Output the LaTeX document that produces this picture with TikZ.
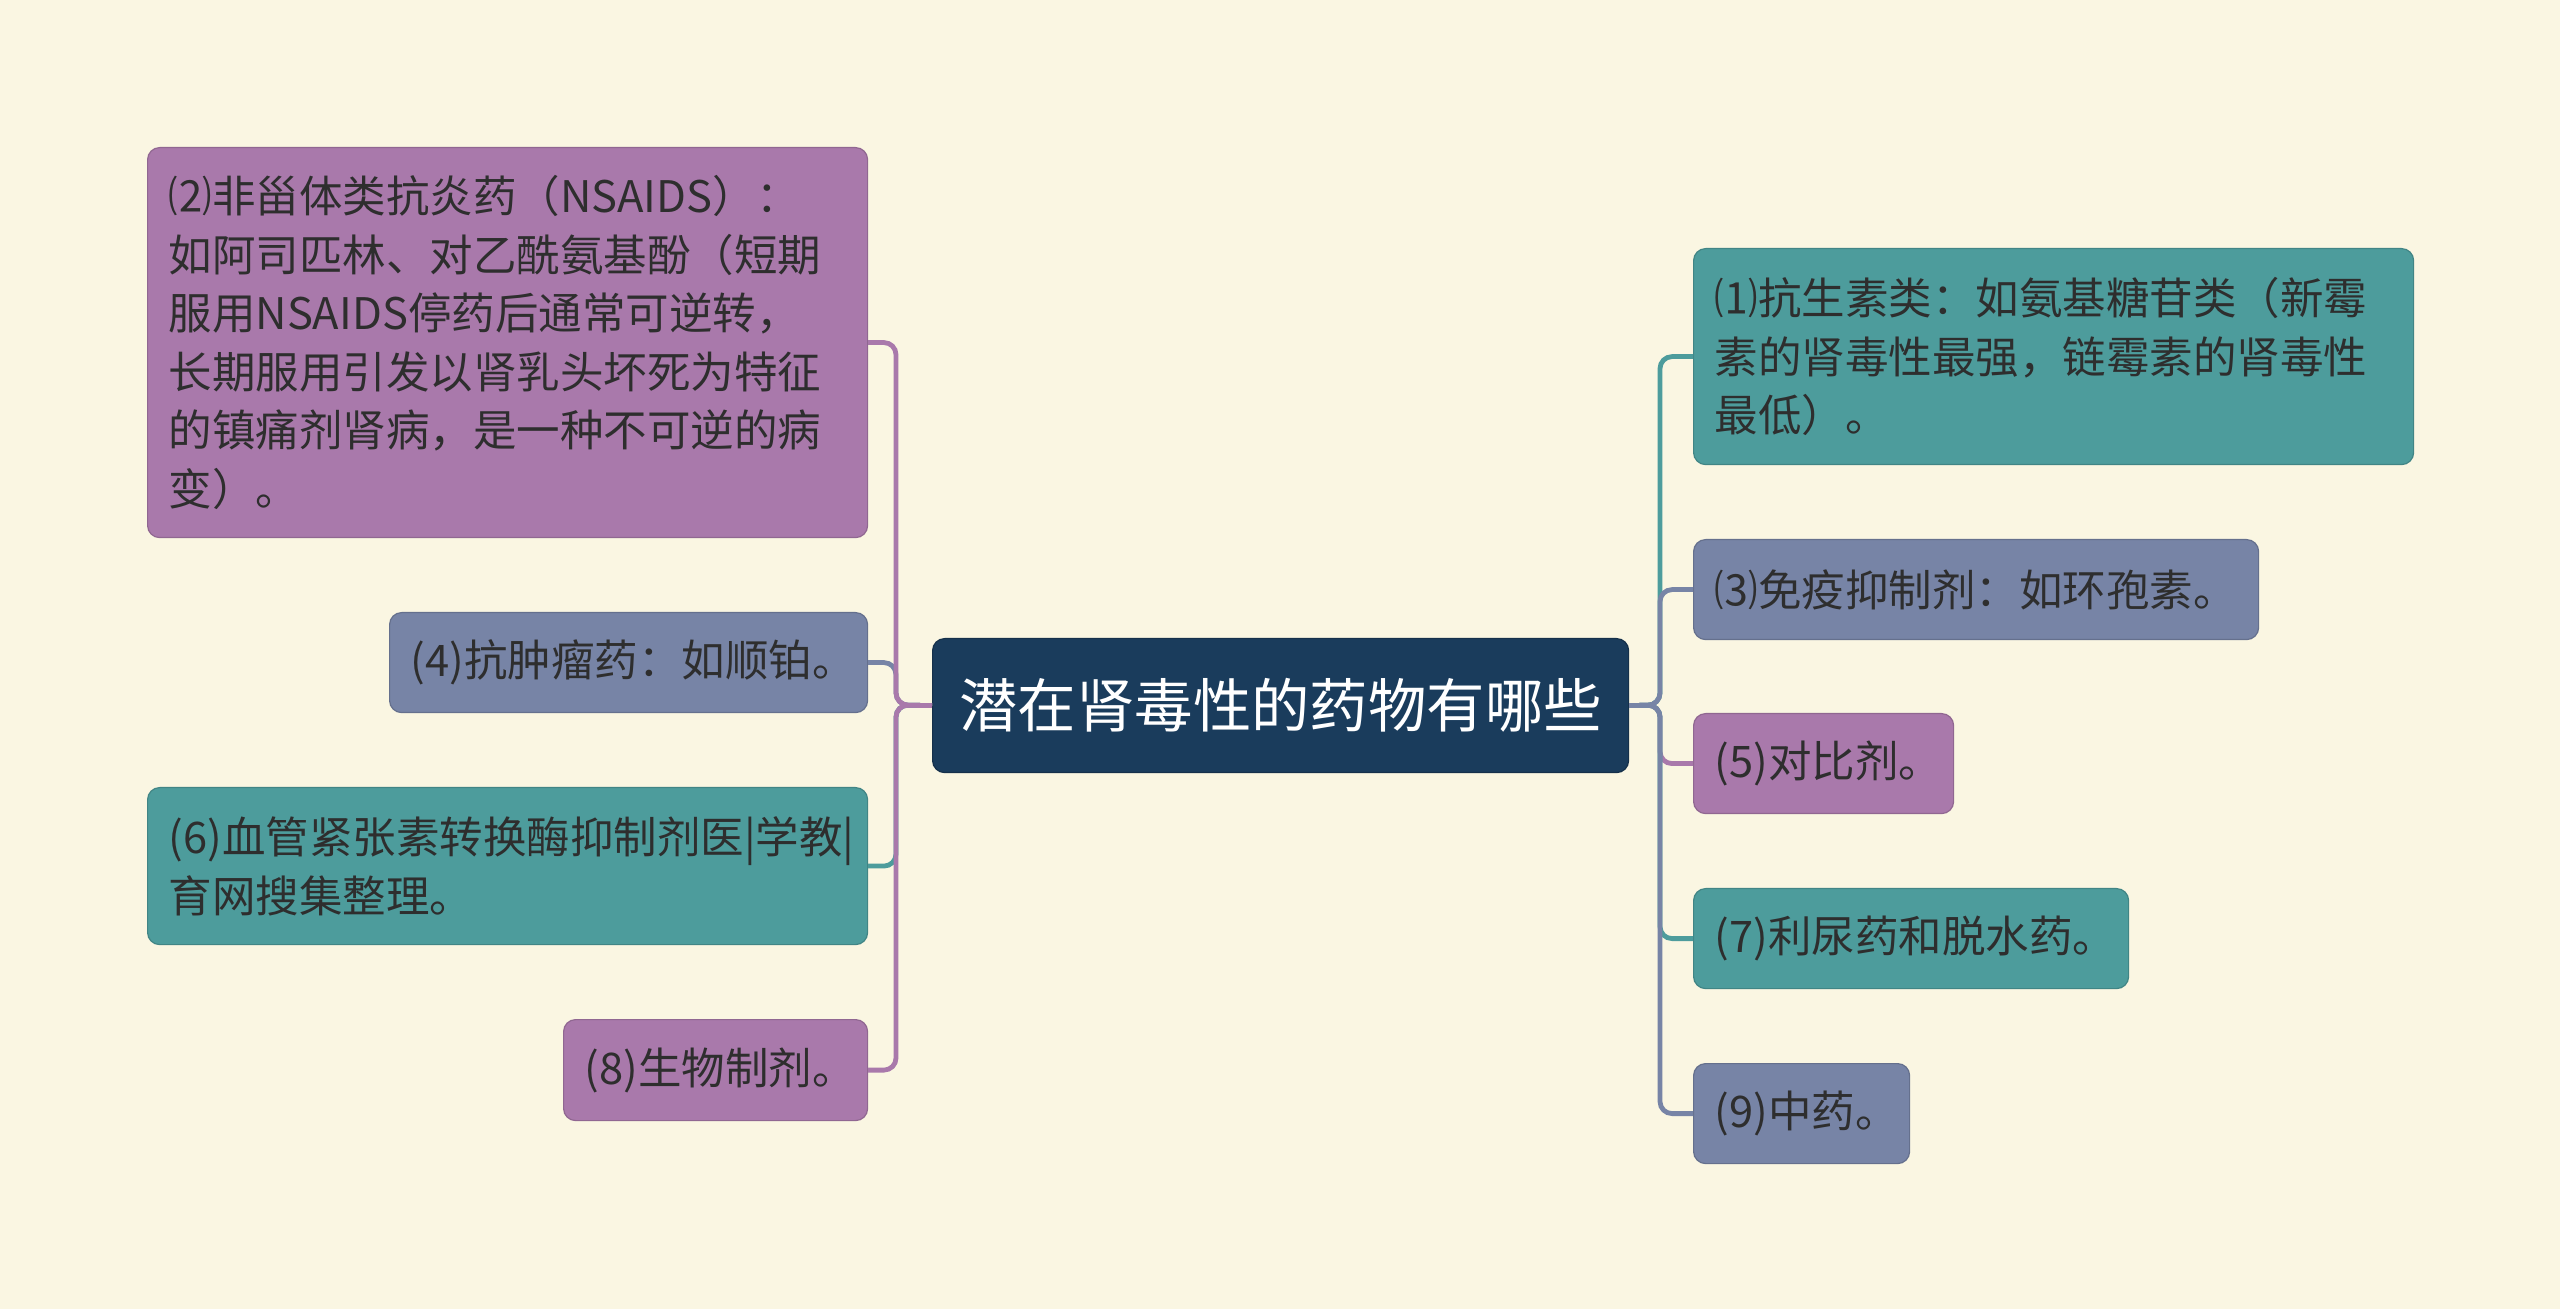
\documentclass[tikz,border=0pt]{standalone}
\usepackage{fontspec}
\newfontfamily\cjk{Noto Sans CJK SC}
\definecolor{bgc}{HTML}{FAF6E2}
\definecolor{cpurple}{HTML}{A979AB}
\definecolor{cslate}{HTML}{7784A6}
\definecolor{cteal}{HTML}{4D9C9C}
\definecolor{cnavy}{HTML}{1A3C5C}
\definecolor{txt}{HTML}{2E2E2E}
\tikzset{
  leaf/.style={draw=#1!85!black, fill=#1, line width=0.6pt, rounded corners=6pt,
    anchor=north west, inner xsep=10.5pt, inner ysep=0pt, text=txt,
    font=\cjk\fontsize{21.75}{29.25}\selectfont, align=left},
  link/.style={line width=2.4pt, draw=#1, rounded corners=6pt},
}
\begin{document}
\begin{tikzpicture}[x=0.5pt,y=-0.5pt]
\fill[bgc] (0,0) rectangle (2560,1309);
\useasboundingbox (0,0) rectangle (2560,1309);

\node[fill=cnavy, draw=cnavy!80!black, line width=0.6pt, rounded corners=6pt,
  minimum width=348pt, minimum height=67pt, inner sep=0pt, text=white,
  font=\cjk\fontsize{29.2}{35}\selectfont, anchor=north west] (ctr) at (932,638) {潜在肾毒性的药物有哪些};

% left side
\node[leaf=cpurple, text width=339pt, minimum height=195pt] (n2) at (147,147)
  {⑵非甾体类抗炎药（NSAIDS）：\\如阿司匹林、对乙酰氨基酚（短期\\服用NSAIDS停药后通常可逆转，\\长期服用引发以肾乳头坏死为特征\\的镇痛剂肾病，是一种不可逆的病\\变）。};
\node[leaf=cslate, text width=218pt, minimum height=50pt] (n4) at (389,612) {(4)抗肿瘤药：如顺铂。};
\node[leaf=cteal, text width=339pt, minimum height=78.5pt] (n6) at (147,787) {(6)血管紧张素转换酶抑制剂医|学教|\\育网搜集整理。};
\node[leaf=cpurple, text width=131pt, minimum height=50.5pt] (n8) at (563,1019) {(8)生物制剂。};

% right side
\node[leaf=cteal, text width=339pt, minimum height=108pt] (n1) at (1693,248)
  {⑴抗生素类：如氨基糖苷类（新霉\\素的肾毒性最强，链霉素的肾毒性\\最低）。};
\node[leaf=cslate, text width=261.5pt, minimum height=50pt] (n3) at (1693,539) {⑶免疫抑制剂：如环孢素。};
\node[leaf=cpurple, text width=109pt, minimum height=50pt] (n5) at (1693,713) {(5)对比剂。};
\node[leaf=cteal, text width=196.5pt, minimum height=50pt] (n7) at (1693,888) {(7)利尿药和脱水药。};
\node[leaf=cslate, text width=87pt, minimum height=50pt] (n9) at (1693,1063) {(9)中药。};

\coordinate (jl) at (896,705);
\coordinate (jr) at (1660,705);

\draw[link=cslate] (ctr.west) -- (jl) |- (n4.east);
\draw[link=cteal] (ctr.west) -- (jl) |- (n6.east);
\draw[link=cpurple] (ctr.west) -- (jl) |- (n2.east);
\draw[link=cpurple] (ctr.west) -- (jl) |- (n8.east);

\draw[link=cteal] (ctr.east) -- (jr) |- (n1.west);
\draw[link=cpurple] (ctr.east) -- (jr) |- (n5.west);
\draw[link=cteal] (ctr.east) -- (jr) |- (n7.west);
\draw[link=cslate] (ctr.east) -- (jr) |- (n3.west);
\draw[link=cslate] (ctr.east) -- (jr) |- (n9.west);
\end{tikzpicture}
\end{document}
